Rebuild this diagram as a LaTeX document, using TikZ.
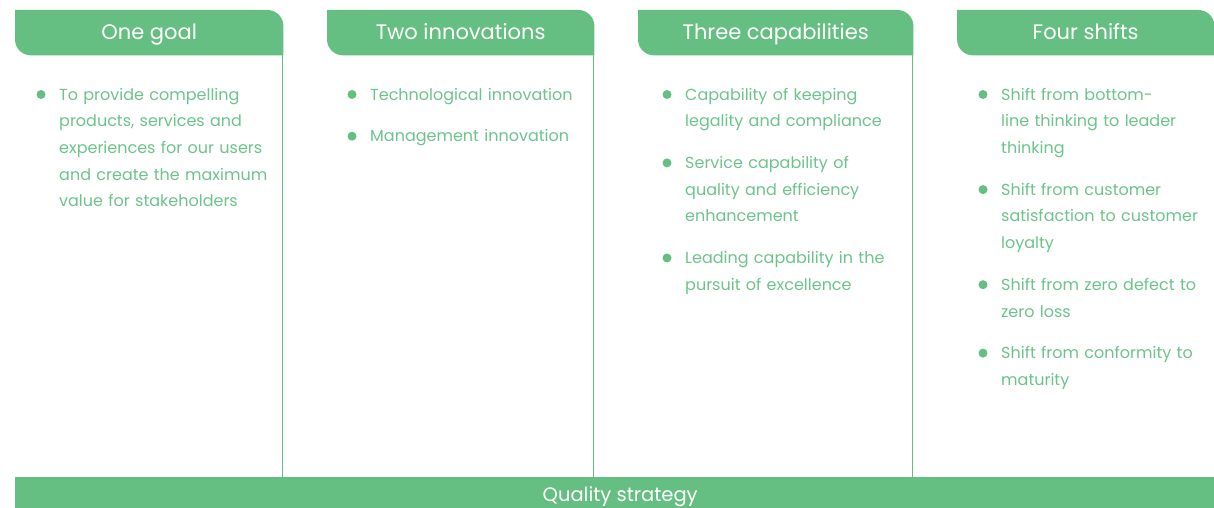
\documentclass[tikz,border=0pt]{standalone}
\usepackage{fontspec}
\setmainfont{Poppins}
\usepackage{tikz}
\usetikzlibrary{positioning, backgrounds}
\definecolor{qgreen}{RGB}{102,191,130}
\definecolor{qtext}{RGB}{108,196,138}

\begin{document}
\begin{tikzpicture}[x=1pt, y=1pt,
	tab/.style={minimum width=#1, minimum height=45pt, inner sep=0pt, anchor=north west,
		text height=17pt, text depth=4pt, text=white, font=\fontsize{21}{24}\selectfont},
	item/.style={anchor=north west, inner sep=0pt, text width=240pt, align=left, text=qtext,
		font=\fontsize{16}{26.7}\selectfont, execute at begin node=\strut, execute at end node=\strut},
	rule/.style={draw=qgreen, line width=1.3pt},
	node distance=14.6pt]
	\useasboundingbox (0,0) rectangle (1214,508);
	
	\node[tab=268pt] (h1) at (15,498) {One goal};
	\node[tab=267pt] (h2) at (327,498) {Two innovations};
	\node[tab=275pt] (h3) at (638,498) {Three capabilities};
	\node[tab=257pt] (h4) at (957,498) {Four shifts};
	
	\node[fill=qgreen, minimum width=1199pt, minimum height=31pt, inner sep=0pt, anchor=south west,
		text height=24pt, text depth=5pt, text=white, font=\fontsize{19.5}{22}\selectfont]
		(qs) at (15,0) {\hspace*{11pt}Quality strategy};
	
	\begin{scope}[on background layer]
		\foreach \h in {h1,h2,h3,h4}
			\fill[qgreen] (\h.north west) -- ([xshift=-16pt]\h.north east)
				arc[start angle=90, end angle=0, radius=16pt] -- (\h.south east)
				-- ([xshift=16pt]\h.south west) arc[start angle=270, end angle=180, radius=16pt] -- cycle;
	\end{scope}
	
	\foreach \h in {h1,h2,h3}
		\draw[rule] ([xshift=-0.6pt]\h.south east) -- ([xshift=-0.6pt]\h.south east |- qs.north);
	
	\node[item] (a1) at (59,426.7) {To provide compelling\\products, services and\\experiences for our users\\and create the maximum\\value for stakeholders};
	
	\node[item] (b1) at (370,426.7) {Technological innovation};
	\node[item, below=of b1.south west, anchor=north west] (b2) {Management innovation};
	
	\node[item] (c1) at (685,426.7) {Capability of keeping\\legality and compliance};
	\node[item, below=of c1.south west, anchor=north west] (c2) {Service capability of\\quality and efficiency\\enhancement};
	\node[item, below=of c2.south west, anchor=north west] (c3) {Leading capability in the\\pursuit of excellence};
	
	\node[item] (d1) at (1001,426.7) {Shift from bottom-\\line thinking to leader\\thinking};
	\node[item, below=of d1.south west, anchor=north west] (d2) {Shift from customer\\satisfaction to customer\\loyalty};
	\node[item, below=of d2.south west, anchor=north west] (d3) {Shift from zero defect to\\zero loss};
	\node[item, below=of d3.south west, anchor=north west] (d4) {Shift from conformity to\\maturity};
	
	\foreach \n in {a1,b1,b2,c1,c2,c3,d1,d2,d3,d4}
		\fill[qgreen] ([shift={(-18pt,-13.2pt)}]\n.north west) circle (4.5pt);
\end{tikzpicture}
\end{document}
